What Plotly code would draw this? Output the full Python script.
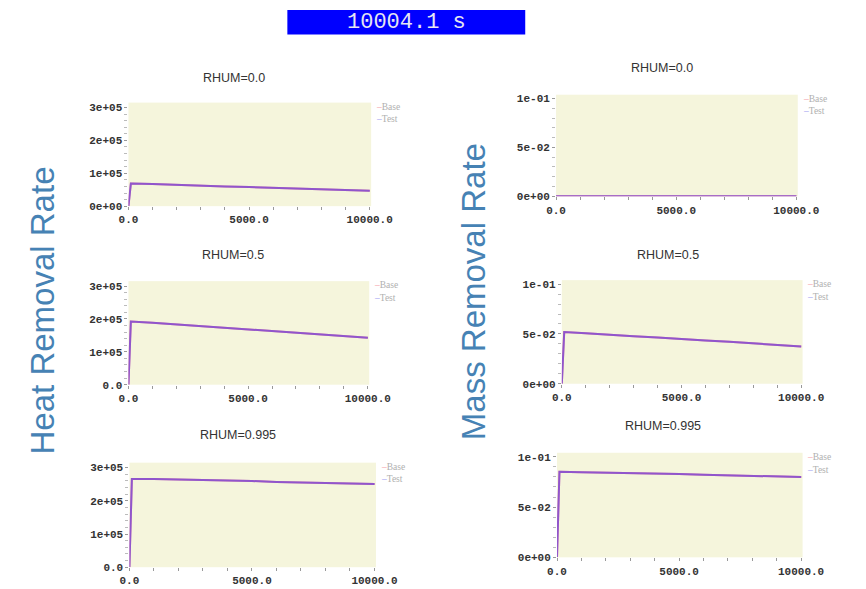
import numpy as np
import plotly.graph_objects as go

W, H = 866, 589

# Output times (s)
time_s = [0.0, 100.0, 1000.0, 2000.0, 3000.0, 4000.0, 5000.0, 6000.0, 7000.0, 8000.0, 9000.0, 10004.1]

# Heat removal rate (W) for each relative humidity
heat_rhum_00 = [0, 69200, 67100, 64000, 62000, 60000, 58000, 56000, 53000, 52000, 50000, 47000]
heat_rhum_05 = [0, 192000, 188500, 183500, 178500, 173500, 167500, 162500, 158500, 153500, 147500, 142500]
heat_rhum_0995 = [0, 265500, 265500, 264500, 261600, 260600, 259600, 256700, 255700, 254700, 252700, 250700]

# Mass removal rate (kg/s) for each relative humidity
mass_rhum_00 = [0.0] * 12
mass_rhum_05 = [0.0, 0.0520, 0.0507, 0.0490, 0.0477, 0.0464, 0.0447, 0.0434, 0.0421, 0.0408, 0.0391, 0.0375]
mass_rhum_0995 = [0.0, 0.0851, 0.0847, 0.0844, 0.0838, 0.0831, 0.0828, 0.0821, 0.0815, 0.0812, 0.0805, 0.0799]

panel_titles = ["RHUM=0.0", "RHUM=0.0", "RHUM=0.5", "RHUM=0.5", "RHUM=0.995", "RHUM=0.995"]
series_names = ["Base", "Test"]

x_tickvals = [0, 5000, 10000]
x_ticktext = ["0.0", "5000.0", "10000.0"]
heat_tickvals = [0, 1e5, 2e5, 3e5]
heat_ticktext_top = ["0e+00", "1e+05", "2e+05", "3e+05"]
heat_ticktext = ["0.0", "1e+05", "2e+05", "3e+05"]
mass_tickvals = [0, 0.05, 0.1]
mass_ticktext = ["0e+00", "5e-02", "1e-01"]

stage_time = "10004.1 s"

# panel order: heat/mass interleaved, top to bottom
panel_data = [heat_rhum_00, mass_rhum_00, heat_rhum_05, mass_rhum_05, heat_rhum_0995, mass_rhum_0995]

# plot-area boxes in pixels: (left, right, top, bottom)
boxes = [
    (123, 375, 103, 208), (567, 818, 95, 198),
    (123, 373, 284, 389), (573, 823, 283, 388),
    (124, 380, 468, 574), (568, 823, 458, 564),
]
title_pos = [(233, 78), (677, 68), (232, 258), (683, 257), (237, 440), (678, 431)]

base_color = "#e87ca0"
test_color = "rgba(110,70,220,0.72)"
base_key = "#f4a0a8"
test_key = "#a0a0f0"

tick_font = dict(family="Liberation Mono", size=11, color="#333333", weight="bold")

fig = go.Figure()
layout = dict(
    width=W, height=H, margin=dict(l=0, r=0, t=0, b=0),
    paper_bgcolor="white", plot_bgcolor="#f5f5dc", showlegend=False,
    annotations=[], shapes=[],
)

for i, vals in enumerate(panel_data):
    n = i + 1
    xa = "x" if n == 1 else f"x{n}"
    ya = "y" if n == 1 else f"y{n}"
    l, r, t, b = boxes[i]
    is_heat = i % 2 == 0

    fig.add_trace(go.Scatter(x=time_s, y=vals, mode="lines", name=series_names[0],
                             line=dict(color=base_color, width=2), xaxis=xa, yaxis=ya))
    fig.add_trace(go.Scatter(x=time_s, y=vals, mode="lines", name=series_names[1],
                             line=dict(color=test_color, width=2), xaxis=xa, yaxis=ya))

    if is_heat:
        yvals, ytext = heat_tickvals, (heat_ticktext_top if i == 0 else heat_ticktext)
        yrange = [0, 3.15e5]
        yminor = list(np.arange(0, 3.01e5, 2e4))
    else:
        yvals, ytext = mass_tickvals, mass_ticktext
        yrange = [0, 0.104]
        yminor = list(np.arange(0, 0.1001, 0.01))

    layout["xaxis" if n == 1 else f"xaxis{n}"] = dict(
        domain=[l / W, r / W], anchor=ya, range=[0, 10060],
        tickmode="array", tickvals=x_tickvals, ticktext=x_ticktext,
        ticks="outside", ticklen=3, tickcolor="#999999", tickfont=tick_font,
        minor=dict(tickmode="array", tickvals=list(range(0, 10001, 1000)),
                   ticks="outside", ticklen=3, tickcolor="#999999"),
        showgrid=False, zeroline=False, showline=False,
    )
    layout["yaxis" if n == 1 else f"yaxis{n}"] = dict(
        domain=[1 - b / H, 1 - t / H], anchor=xa, range=yrange,
        tickmode="array", tickvals=yvals, ticktext=ytext,
        ticks="outside", ticklen=3, tickcolor="#999999", tickfont=tick_font,
        minor=dict(tickmode="array", tickvals=yminor,
                   ticks="outside", ticklen=3, tickcolor="#bbbbbb"),
        showgrid=False, zeroline=False, showline=False,
    )

    # panel title
    tx, ty = title_pos[i]
    layout["annotations"].append(dict(
        text=panel_titles[i], x=tx / W, y=1 - ty / H, xref="paper", yref="paper",
        xanchor="center", yanchor="middle", showarrow=False,
        font=dict(family="Liberation Sans", size=12.5, color="#333333")))

    # compact key to the right of each panel
    for k, (name, col) in enumerate(zip(series_names, [base_key, test_key])):
        layout["annotations"].append(dict(
            text=f"<span style='color:{col}'>–</span>{name}",
            x=(r + 3) / W, y=1 - (t + 4 + 13 * k) / H, xref="paper", yref="paper",
            xanchor="left", yanchor="middle", showarrow=False,
            font=dict(family="Liberation Serif", size=9.5, color="#b0b0b0")))

# big column labels
layout["annotations"].append(dict(
    text="Heat Removal Rate", x=34 / W, y=1 - 314 / H, xref="paper", yref="paper",
    textangle=-90, showarrow=False, xanchor="center", yanchor="middle",
    font=dict(family="Liberation Sans", size=33, color="#4682b4")))
layout["annotations"].append(dict(
    text="Mass Removal Rate", x=482 / W, y=1 - 295 / H, xref="paper", yref="paper",
    textangle=-90, showarrow=False, xanchor="center", yanchor="middle",
    font=dict(family="Liberation Sans", size=33, color="#4682b4")))

# time banner
layout["shapes"].append(dict(type="rect", xref="paper", yref="paper",
                             x0=288 / W, x1=535 / W, y0=1 - 34 / H, y1=1 - 9 / H,
                             fillcolor="#0000ff", line=dict(width=0)))
layout["annotations"].append(dict(
    text=stage_time, x=411.5 / W, y=1 - 22 / H, xref="paper", yref="paper",
    xanchor="center", yanchor="middle", showarrow=False,
    font=dict(family="Liberation Mono", size=22, color="#e6e6f2")))

fig.update_layout(**layout)
fig.write_html("out.html")
